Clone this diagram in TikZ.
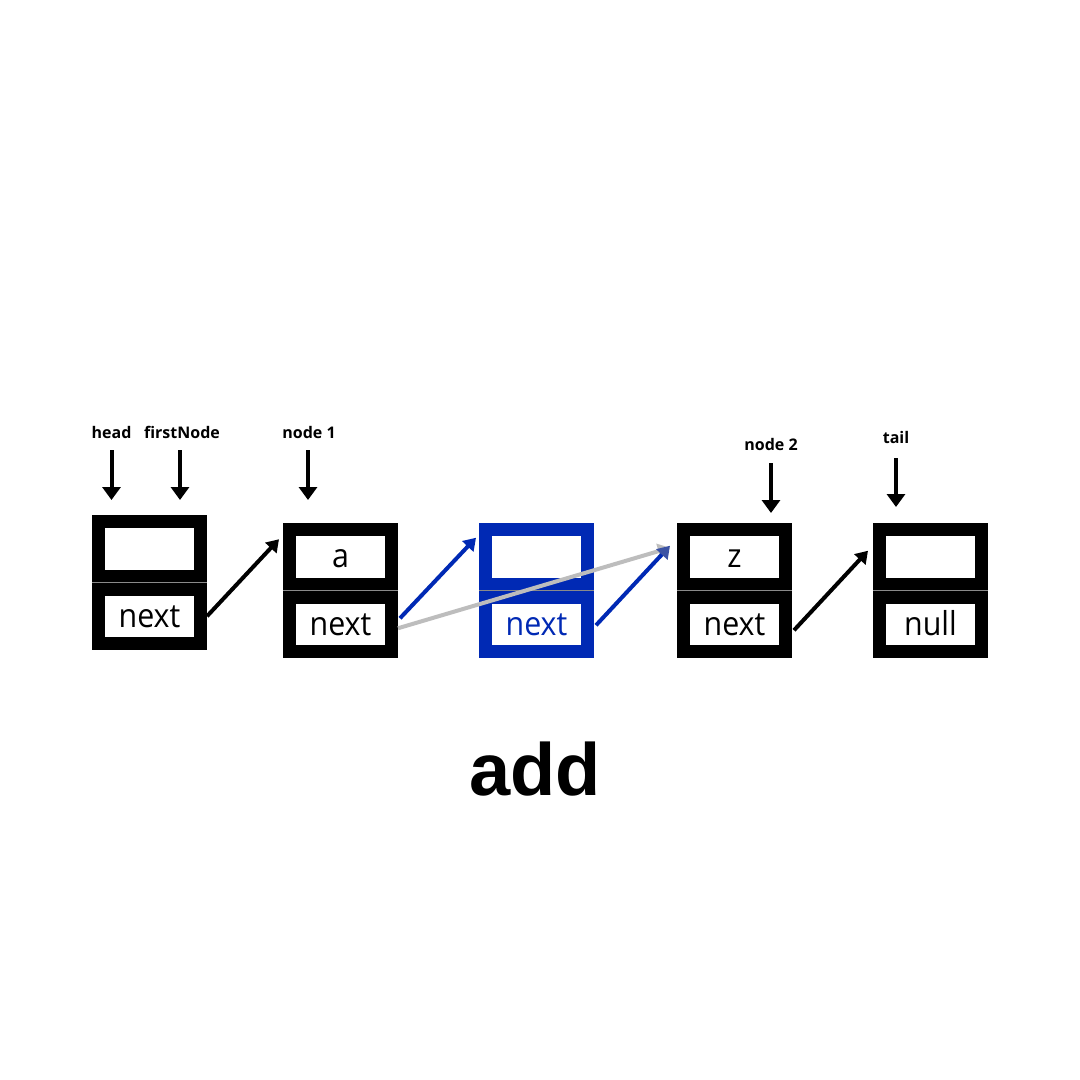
\documentclass[tikz,border=0pt]{standalone}
\usepackage{fontspec}
\setmainfont{Open Sans}
\newfontfamily\cellfont{Open Sans}[FakeStretch=0.92]
\newfontfamily\addfont{Liberation Sans}
\usetikzlibrary{arrows.meta}
\definecolor{blueC}{HTML}{0029B4}
\definecolor{grayC}{HTML}{BDBDBD}
\definecolor{slateC}{HTML}{3B52A4}
\definecolor{seamC}{HTML}{8A8A8A}
\tikzset{
  cell/.style={draw=black, line width=13pt, fill=white, minimum width=102pt,
    minimum height=54.5pt, inner sep=0pt, text height=22pt, text depth=0pt,
    font=\cellfont\fontsize{33}{33}\selectfont},
  bluecell/.style={cell, draw=blueC, text=blueC},
  seam/.style={draw=seamC, line width=0.8pt},
  lbl/.style={anchor=base, inner sep=0pt, font=\fontsize{16}{16}\selectfont\bfseries},
  ptr/.style={draw=black, line width=4pt, -{Triangle[length=13pt,width=18pt]}},
  link/.style={line width=4pt, -{Triangle[length=12pt,width=15pt]}},
}
\begin{document}
\begin{tikzpicture}[x=1pt,y=-1pt]
\fill[white] (0,0) rectangle (1080,1080);
\useasboundingbox (0,0) rectangle (1080,1080);

% cells
\node[cell] (b1t) at (149.5,548.75) {};
\node[cell] (b1n) at (149.5,616.25) {next};
\node[cell] (b2t) at (340.5,556.75) {a};
\node[cell] (b2n) at (340.5,624.25) {next};
\node[bluecell] (b3t) at (536.5,556.75) {};
\node[bluecell] (b3n) at (536.5,624.25) {next};
\node[cell] (b4t) at (734.5,556.75) {z};
\node[cell] (b4n) at (734.5,624.25) {next};
\node[cell] (b5t) at (930.5,556.75) {};
\node[cell] (b5n) at (930.5,624.25) {null};

% seams
\foreach \c in {b1t,b2t,b3t,b4t,b5t}
  \draw[seam] (\c.south west) -- (\c.south east);

% labels
\node[lbl] (lhead) at (111.5,438) {head};
\node[lbl] (lfirst) at (182,438) {firstNode};
\node[lbl] (lnode1) at (309,438) {node 1};
\node[lbl] (lnode2) at (771,450) {node 2};
\node[lbl] (ltail) at (896,443) {tail};

\coordinate (p1) at (111.5,500);
\coordinate (p2) at (180,500);
\coordinate (p3) at (308,500);
\coordinate (p4) at (771,513);
\coordinate (p5) at (896,507);

\draw[ptr] (p1 |- 0,450) -- (p1);
\draw[ptr] (p2 |- 0,450) -- (p2);
\draw[ptr] (p3 |- 0,450) -- (p3);
\draw[ptr] (p4 |- 0,463) -- (p4);
\draw[ptr] (p5 |- 0,458) -- (p5);

% connectors
\draw[link, draw=black] (b1n.east) -- ([shift={(-4,-17.5)}]b2t.west);
\draw[link, draw=grayC] ([shift={(0,4)}]b2n.east) -- ([shift={(-7,-9)}]b4t.west);
\draw[link, draw=blueC] ([shift={(2,-6)}]b2n.east) -- ([shift={(-3,-19)}]b3t.west);
\draw[line width=4pt, draw=blueC, -{Triangle[length=12pt,width=15pt,color=slateC]}]
  ([shift={(2,1)}]b3n.east) -- ([shift={(-7,-11)}]b4t.west);
\draw[link, draw=black] ([shift={(2,6)}]b4n.east) -- ([shift={(-5,-6)}]b5t.west);

% title
\node[anchor=base, inner sep=0pt, font=\addfont\fontsize{74}{74}\selectfont\bfseries] (title) at (535,795) {add};
\end{tikzpicture}
\end{document}
